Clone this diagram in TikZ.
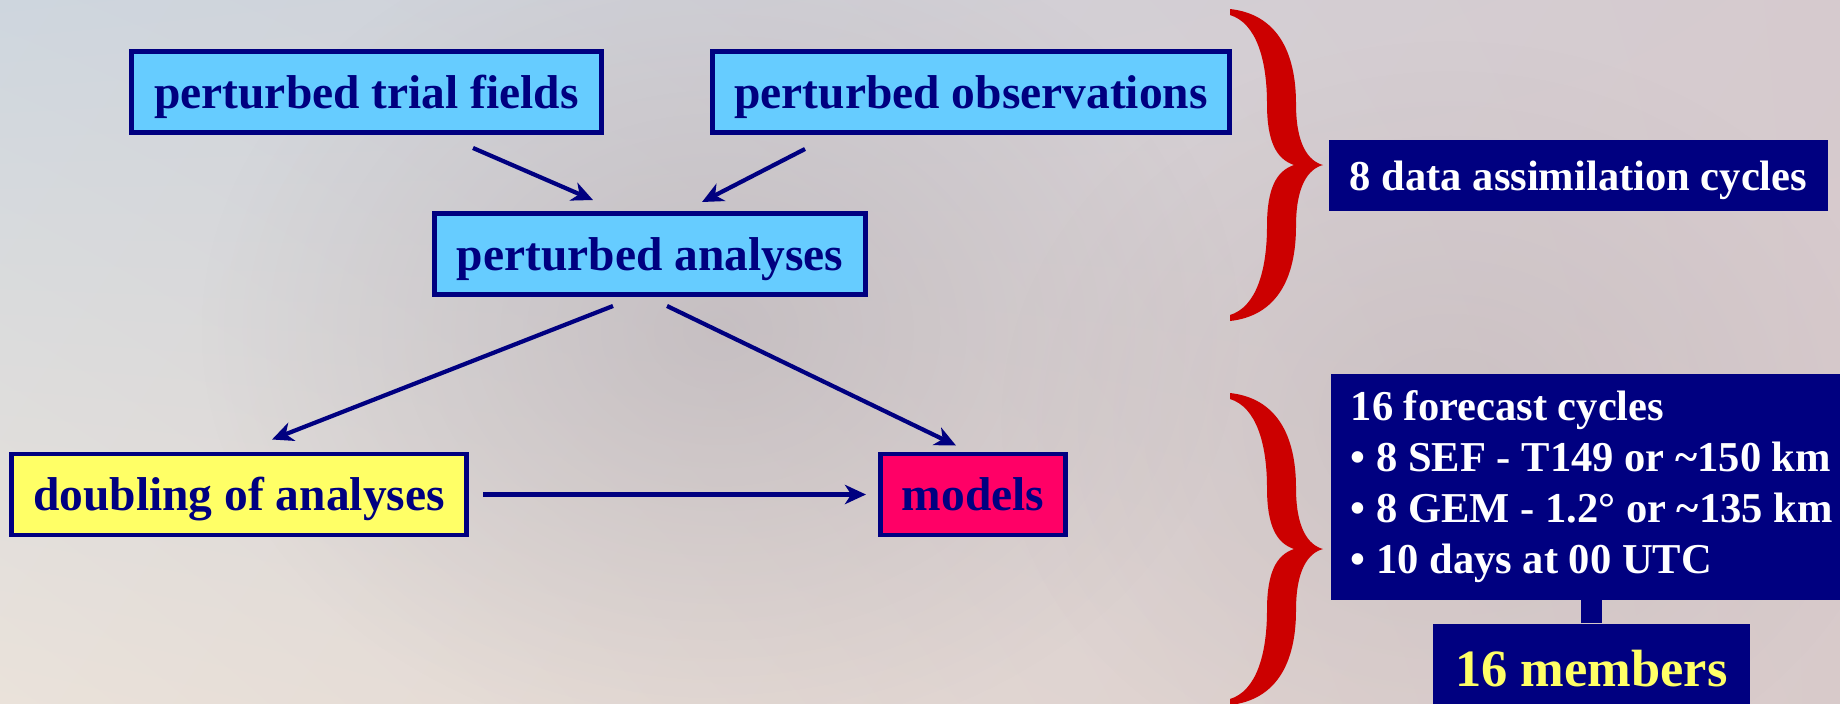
\documentclass[tikz,border=0pt]{standalone}
\usepackage{fontspec}
\setmainfont{Liberation Serif}
\usetikzlibrary{calc,arrows.meta,shadings,fadings}

\definecolor{boxnavy}{HTML}{000080}
\definecolor{boxblue}{HTML}{66CCFF}
\definecolor{boxyellow}{HTML}{FFFF66}
\definecolor{boxpink}{HTML}{FF0066}
\definecolor{bracered}{HTML}{CC0000}
\definecolor{skyul}{RGB}{206,214,222}
\definecolor{skyur}{RGB}{214,202,206}
\definecolor{skyll}{RGB}{234,226,218}
\definecolor{skylr}{RGB}{216,202,202}
\definecolor{cloudgrey}{RGB}{175,165,170}

\tikzfading[name=softspot, inner color=transparent!0, outer color=transparent!100]

\tikzset{
  flowbox/.style={draw=boxnavy, line width=1.4pt, text=boxnavy, inner sep=0pt,
    font=\fontsize{13.5}{16}\selectfont\bfseries, minimum height=0.81cm,
    text height=0.42cm, text depth=0.1cm},
  infobox/.style={fill=boxnavy, text=white, font=\fontsize{12.1}{14.5}\selectfont\bfseries},
  flowarrow/.style={draw=boxnavy, line width=1.2pt, -{Stealth[length=6pt,width=5.5pt,inset=1.8pt]}}
}

\begin{document}
\begin{tikzpicture}[x=0.01cm,y=-0.01cm]
    % draw background
    \clip (0,0) rectangle (1840,703);
    \shade[upper left=skyul, upper right=skyur, lower left=skyll, lower right=skylr]
        (0,0) rectangle (1840,703);
    \fill[cloudgrey, opacity=0.45, path fading=softspot] (720,330) ellipse (520 and 420);
    \fill[cloudgrey, opacity=0.3, path fading=softspot] (1450,420) ellipse (450 and 380);

    % draw boxes
    \node[flowbox, fill=boxblue, minimum width=4.70cm] (ptf) at (366.5,92) {perturbed trial fields};
    \node[flowbox, fill=boxblue, minimum width=5.17cm] (pobs) at (971,92) {perturbed observations};
    \node[flowbox, fill=boxblue, minimum width=4.31cm] (pa) at (650,254) {perturbed analyses};
    \node[flowbox, fill=boxyellow, minimum width=4.55cm] (dbl) at (239,494.5) {doubling of analyses};
    \node[flowbox, fill=boxpink, minimum width=1.85cm] (mdl) at (973,494.5) {models};

    \node[infobox, inner sep=0pt, minimum width=4.99cm, minimum height=0.71cm,
          text height=0.38cm, text depth=0.09cm] (dac) at (1578.5,175.5)
        {8 data assimilation cycles};
    \node[infobox, anchor=west, align=left, inner xsep=0.2cm, inner ysep=0pt, minimum height=2.25cm] (fc) at (1330,487)
        {16 forecast cycles\\
         \textbullet\ 8 SEF - T149 or \textasciitilde150 km\\
         \textbullet\ 8 GEM - 1.2° or \textasciitilde135 km\\
         \textbullet\ 10 days at 00 UTC};
    \node[fill=boxnavy, text=boxyellow, font=\fontsize{14.9}{17}\selectfont\bfseries, inner sep=0pt,
          minimum width=3.17cm, minimum height=0.89cm, anchor=north] (mem) at (1591.5,623) {16 members};
    \draw[boxnavy, line width=0.21cm] (mem.north) -- (mem.north |- fc.south);

    % draw braces
    \foreach \y in {9,393}
    \fill[bracered, shift={(1230,\y)}]
        (0,0) .. controls (45,5) and (66,40) .. (66,95)
        .. controls (66,135) and (78,152) .. (93,156)
        .. controls (78,160) and (66,177) .. (66,217)
        .. controls (66,272) and (45,307) .. (0,312)
        -- (0,306)
        .. controls (26,298) and (37,262) .. (37,217)
        .. controls (37,180) and (46,162) .. (64,156)
        .. controls (46,150) and (37,132) .. (37,95)
        .. controls (37,50) and (26,14) .. (0,6) -- cycle;

    % draw arrows
    \draw[flowarrow] ($(ptf.south)+(106.5,13)$) -- ($(pa.north)+(-57,-11)$);
    \draw[flowarrow] ($(pobs.south)+(-166,14)$) -- ($(pa.north)+(52,-9)$);
    \draw[flowarrow] ($(pa.south)+(-37,9)$) -- ($(dbl.north)+(33,-12)$);
    \draw[flowarrow] ($(pa.south)+(17,9)$) -- ($(mdl.north)+(-17,-6)$);
    \draw[flowarrow, shorten <=0.14cm, shorten >=0.12cm] (dbl.east) -- (mdl.west);

  \end{tikzpicture}
\end{document}
